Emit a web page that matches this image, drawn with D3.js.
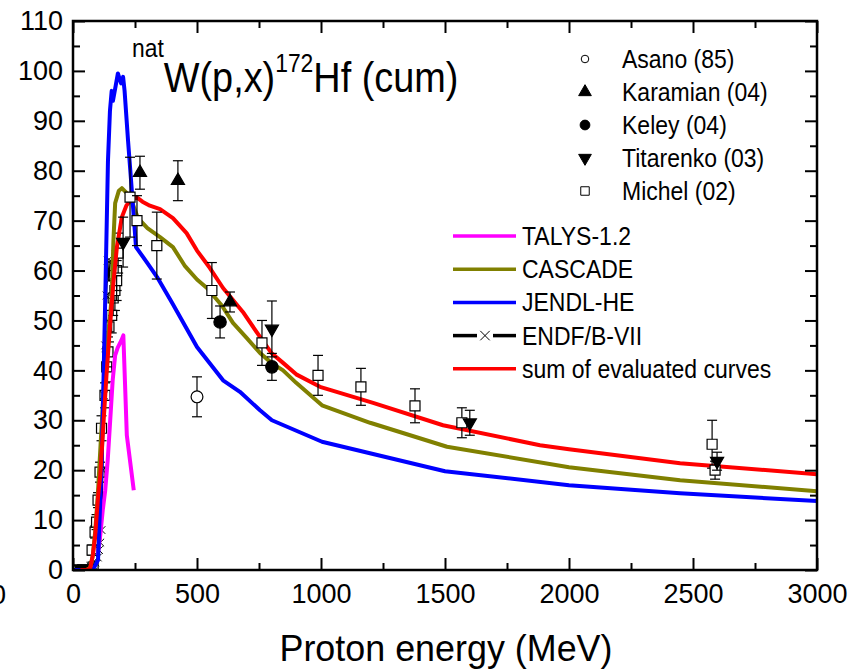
<!DOCTYPE html>
<html>
<head>
<meta charset="utf-8">
<script src="https://cdn.jsdelivr.net/npm/d3@7"></script>
<style>
  body{ margin:0; background:#fff; }
  svg{ display:block; }
  text{ font-family:"Liberation Sans", Arial, sans-serif; fill:#000; }
</style>
</head>
<body>
<svg id="chart" width="859" height="671"></svg>
<script>
// ---- data (energy MeV, cross section mb) ----
var xTicks = [0, 500, 1000, 1500, 2000, 2500, 3000];
var yTicks = [0, 10, 20, 30, 40, 50, 60, 70, 80, 90, 100, 110];

var talys = [[100,3],[110,7],[120,12],[130,16],[140,22],[150,30],[160,38],[170,43],[180,44.5],[195,46],[203,47],[210,37],[217,27],[245,16]];
var cascade = [[55,0],[70,0.5],[80,3],[90,8],[100,15],[110,24],[120,33],[130,41],[140,47],[150,51],[157,56],[163,66],[170,73.5],[185,76],[197,76.5],[217,75.5],[236,74],[262,70.5],[300,68.5],[351,66.7],[403,64.7],[450,61],[500,58.2],[540,56.5],[600,53],[645,49.5],[700,46.5],[754,43.5],[800,41.5],[847,40],[900,37.5],[1004,33],[1198,29.5],[1508,24.7],[2000,20.6],[2448,18],[3000,15.8]];
var jendl = [[0,0],[80,0],[101,2],[116,22],[129,52],[141,82],[149,92],[156,96],[161,94],[172,97],[181,99.5],[194,97.5],[202,98.8],[208,96],[222,86],[238,75.5],[254,64.7],[300,61.5],[339,58.7],[400,53.5],[500,44.7],[605,38],[673,35.7],[754,32],[802,30],[1004,25.7],[1500,19.8],[2000,17],[2448,15.4],[3000,13.8]];
var endf = [[30,0],[50,0.3],[70,0.8],[80,1],[90,1.5],[100,2.5],[105,4],[110,5.5],[115,8],[120,20],[125,35],[130,45],[135,55],[140,62],[145,58],[150,62]];
var sumCurve = [[30,0],[60,0],[70,0.5],[80,3],[89,6.6],[101,14.6],[110,19],[122,28.7],[135,39],[149,48.7],[163,57.5],[177,64.7],[197,70.7],[215,73],[230,74],[256,74.7],[280,73.8],[310,73],[351,72.3],[403,70.5],[458,67.5],[500,64],[552,60.5],[605,56.5],[685,51.7],[754,46.7],[800,43.5],[847,41.5],[900,39.2],[996,36.7],[1210,33.5],[1492,29],[1883,25],[2000,24.2],[2448,21.4],[3000,19.2]];

// experimental points: [energy, value, error]
var asano = [[500,34.7,4]];
var karamian = [[270,79.6,3.3],[423,78,4],[633,53.7,2]];
var keley = [[593,49.7,3.2],[802,40.7,2.7]];
var titarenko = [[30,0.3,0.3],[45,0.3,0.3],[202,65.7,5],[802,48.3,5.6],[1600,29.5,2.5],[2597,21.8,1.8]];
var michel = [[77,4,1],[81,0.6,0.5],[89,7.6,1.2],[95,9.6,1.5],[101,14,1.5],[109,19.6,2],[115,28.4,2.5],[129,35,2.5],[136,40.7,3],[141,43.7,3],[145,48.7,3],[156,51,3.5],[162,54.5,3.5],[169,56,4],[176,58,4],[176,60,4],[182,63.5,4],[230,74.7,8],[258,70,5],[338,65,6.7],[560,56,5.6],[762,45.5,4.5],[988,39,4],[1161,36.7,3.7],[1379,32.9,3.4],[1568,29.5,3],[2577,25.2,4.8],[2589,20,1.8]];

var svg = d3.select("#chart");
var x = d3.scaleLinear().domain([0, 3000]).range([73, 817]);
var y = d3.scaleLinear().domain([0, 110]).range([570, 21]);

// text with a slight horizontal squeeze, like the original export
function label(g, px, py, str, size, anchor, sx){
  return g.append("text")
    .attr("transform", "translate(" + px + "," + py + ") scale(" + sx + ",1)")
    .attr("text-anchor", anchor || "start")
    .style("font-size", size + "px")
    .text(str);
}

svg.append("clipPath").attr("id", "plotclip")
  .append("rect").attr("x", 73).attr("y", 21).attr("width", 744).attr("height", 549);

var plot = svg.append("g").attr("clip-path", "url(#plotclip)");

var line = d3.line().x(function(d){ return x(d[0]); }).y(function(d){ return y(d[1]); });

// ---- experimental points ----
function drawPoints(g, data, type, fill, rot, size){
  var sym = d3.symbol().type(type).size(size);
  var pg = g.append("g");
  data.forEach(function(d){
    var cx = x(d[0]), cy = y(d[1]);
    pg.append("line").attr("x1", cx).attr("x2", cx)
      .attr("y1", y(d[1] - d[2])).attr("y2", y(d[1] + d[2]))
      .attr("stroke", "#000").attr("stroke-width", 1.2);
    [d[1] - d[2], d[1] + d[2]].forEach(function(v){
      pg.append("line").attr("x1", cx - 5).attr("x2", cx + 5)
        .attr("y1", y(v)).attr("y2", y(v))
        .attr("stroke", "#000").attr("stroke-width", 1.2);
    });
    pg.append("path").attr("d", sym())
      .attr("transform", "translate(" + cx + "," + cy + ") rotate(" + rot + ")")
      .attr("fill", fill).attr("stroke", "#000").attr("stroke-width", 1.2);
  });
}

var lowMichel = michel.filter(function(d){ return d[0] < 200; });
var highMichel = michel.filter(function(d){ return d[0] >= 200; });
drawPoints(plot, lowMichel, d3.symbolSquare, "#fff", 0, 100);
drawPoints(plot, titarenko.filter(function(d){ return d[0] < 100; }), d3.symbolTriangle, "#000", 180, 70);

// ---- curves ----
plot.append("path").datum(endf).attr("d", line)
  .attr("fill", "none").attr("stroke", "#000").attr("stroke-width", 1.5);
plot.selectAll("path.cross").data(endf).enter().append("path").attr("class", "cross")
  .attr("d", d3.symbol().type(d3.symbolX).size(40)())
  .attr("transform", function(d){ return "translate(" + x(d[0]) + "," + y(d[1]) + ")"; })
  .attr("fill", "none").attr("stroke", "#000").attr("stroke-width", 1);

[[talys, "#ff00ff"], [cascade, "#808000"], [jendl, "#0000ff"], [sumCurve, "#ff0000"]].forEach(function(c){
  plot.append("path").datum(c[0]).attr("d", line)
    .attr("fill", "none").attr("stroke", c[1]).attr("stroke-width", 4)
    .attr("stroke-linejoin", "round");
});

drawPoints(plot, highMichel, d3.symbolSquare, "#fff", 0, 100);
drawPoints(plot, asano, d3.symbolCircle, "#fff", 0, 110);
drawPoints(plot, karamian, d3.symbolTriangle, "#000", 0, 75);
drawPoints(plot, keley, d3.symbolCircle, "#000", 0, 120);
drawPoints(plot, titarenko.filter(function(d){ return d[0] >= 100; }), d3.symbolTriangle, "#000", 180, 75);

// ---- axes ----
var xMinor = d3.range(250, 3000, 500);
var yMinor = d3.range(5, 110, 10);

function styleAxis(g){
  g.select(".domain").remove();
  g.selectAll(".tick line").attr("stroke", "#000").attr("stroke-width", 2);
  g.selectAll(".tick text").style("font-size", "27px")
    .style("font-family", "'Liberation Sans', Arial, sans-serif");
}

svg.append("g").attr("transform", "translate(0,570)")
  .call(d3.axisBottom(x).tickValues(xTicks).tickSize(-12).tickPadding(14).tickFormat(d3.format("d")))
  .call(styleAxis);
svg.append("g").attr("transform", "translate(0,570)")
  .call(d3.axisBottom(x).tickValues(xMinor).tickSize(-7).tickFormat(""))
  .call(styleAxis);
svg.append("g").attr("transform", "translate(0,21)")
  .call(d3.axisTop(x).tickValues(xTicks).tickSize(-12).tickFormat(""))
  .call(styleAxis);
svg.append("g").attr("transform", "translate(0,21)")
  .call(d3.axisTop(x).tickValues(xMinor).tickSize(-7).tickFormat(""))
  .call(styleAxis);
svg.append("g").attr("transform", "translate(73,0)")
  .call(d3.axisLeft(y).tickValues(yTicks).tickSize(-12).tickPadding(10).tickFormat(d3.format("d")))
  .call(styleAxis);
svg.append("g").attr("transform", "translate(73,0)")
  .call(d3.axisLeft(y).tickValues(yMinor).tickSize(-7).tickFormat(""))
  .call(styleAxis);
svg.append("g").attr("transform", "translate(817,0)")
  .call(d3.axisRight(y).tickValues(yTicks).tickSize(-12).tickFormat(""))
  .call(styleAxis);
svg.append("g").attr("transform", "translate(817,0)")
  .call(d3.axisRight(y).tickValues(yMinor).tickSize(-7).tickFormat(""))
  .call(styleAxis);

svg.append("rect").attr("x", 73).attr("y", 21).attr("width", 744).attr("height", 549)
  .attr("fill", "none").attr("stroke", "#000").attr("stroke-width", 2.5);

// stray clipped label at the left edge
label(svg, 6, 604, "0", 27, "end", 1);

// axis title
label(svg, 446, 661, "Proton energy (MeV)", 37, "middle", 0.97);

// plot title
var t = svg.append("text")
  .attr("transform", "translate(132,92) scale(0.88,1)")
  .style("font-size", "43px");
t.append("tspan").style("font-size", "26px").attr("dy", -35).text("nat");
t.append("tspan").attr("dy", 35).text("W(p,x)");
t.append("tspan").style("font-size", "26px").attr("dy", -20).text("172");
t.append("tspan").attr("dy", 20).text("Hf (cum)");

// ---- legend: experiments ----
var expLegend = [
  ["Asano (85)", d3.symbolCircle, "#fff", 0, 45],
  ["Karamian (04)", d3.symbolTriangle, "#000", 0, 70],
  ["Keley (04)", d3.symbolCircle, "#000", 0, 75],
  ["Titarenko (03)", d3.symbolTriangle, "#000", 180, 70],
  ["Michel (02)", d3.symbolSquare, "#fff", 0, 72]
];
var leg = svg.append("g");
expLegend.forEach(function(e, i){
  var ly = 59 + i * 33;
  leg.append("path").attr("d", d3.symbol().type(e[1]).size(e[4])())
    .attr("transform", "translate(585," + ly + ") rotate(" + e[3] + ")")
    .attr("fill", e[2]).attr("stroke", "#000").attr("stroke-width", 1);
  label(leg, 622, ly + 9, e[0], 25, "start", 0.92);
});

// ---- legend: evaluated curves ----
var curveLegend = [
  ["TALYS-1.2", "#ff00ff"],
  ["CASCADE", "#808000"],
  ["JENDL-HE", "#0000ff"],
  ["ENDF/B-VII", "#000"],
  ["sum of evaluated curves", "#ff0000"]
];
curveLegend.forEach(function(c, i){
  var ly = 236 + i * 33.2;
  if (c[0] === "ENDF/B-VII"){
    leg.append("line").attr("x1", 453).attr("x2", 477).attr("y1", ly).attr("y2", ly)
      .attr("stroke", "#000").attr("stroke-width", 3.5);
    leg.append("line").attr("x1", 493).attr("x2", 516).attr("y1", ly).attr("y2", ly)
      .attr("stroke", "#000").attr("stroke-width", 3.5);
    leg.append("path").attr("d", d3.symbol().type(d3.symbolX).size(60)())
      .attr("transform", "translate(485," + ly + ")")
      .attr("fill", "none").attr("stroke", "#000").attr("stroke-width", 1);
  } else {
    leg.append("line").attr("x1", 453).attr("x2", 516).attr("y1", ly).attr("y2", ly)
      .attr("stroke", c[1]).attr("stroke-width", 3.5);
  }
  label(leg, 522, ly + 9, c[0], 25, "start", 0.92);
});
</script>
</body>
</html>
